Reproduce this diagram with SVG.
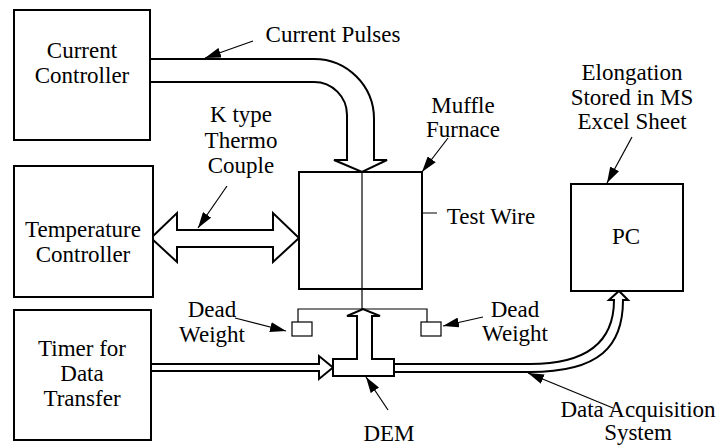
<svg xmlns="http://www.w3.org/2000/svg" width="725" height="447" viewBox="0 0 725 447">
<style>
.box{fill:#fff;stroke:#000;stroke-width:2}
.hollow{fill:#fff;stroke:#000;stroke-width:2}
.thin{fill:none;stroke:#000;stroke-width:1.2}
.wb{fill:#fff;stroke:#000;stroke-width:1.2}
.co{fill:none;stroke:#000;stroke-width:1.2;marker-end:url(#ah)}
.t{font-family:"Times New Roman","Liberation Serif",Tinos,serif;font-size:23px;fill:#000;text-anchor:middle}
</style>
<defs>
<marker id="ah" viewBox="0 0 16 10" refX="16" refY="5" markerWidth="16" markerHeight="10" orient="auto" markerUnits="userSpaceOnUse">
<path d="M0,0 L16,5 L0,10 Z" fill="#000"/>
</marker>
</defs>
<g id="connectors">
<path class="hollow" d="M150,59 L314,59 A60,60 0 0 1 374,119 L374,160 L387,160 L362,172 L334,160 L347,160 L347,115 A33,33 0 0 0 314,82 L150,82"/>
<path class="hollow" d="M151,238 L177,213 L177,230 L273,230 L273,213 L299,238 L273,262 L273,247 L177,247 L177,262 Z"/>
<path class="hollow" d="M151,364 L319,364 L319,356 L333,367.5 L319,379 L319,371 L151,371"/>
<path class="hollow" d="M394,364 L530,364 C590,364 614,340 614,300 L609,300 L619,291 L628,300 L623,300 C623,346 600,372 530,372 L394,372"/>
<path class="co" d="M253,41 L205,58"/>
<path class="co" d="M227,186 L198,228"/>
<path class="co" d="M448,138 L422,172"/>
<path class="co" d="M437,213 L368,213"/>
<path class="co" d="M632,137 L607,183"/>
<path class="co" d="M235,318 L286,331"/>
<path class="co" d="M483,317 L443,326"/>
<path class="co" d="M388,410 L366,377"/>
<path class="co" d="M613,408 L528,373"/>
</g>
<g id="current-controller">
<rect class="box" x="14" y="10" width="136" height="130"/>
<text class="t" x="82" y="58">Current</text>
<text class="t" x="82" y="83">Controller</text>
</g>
<g id="temperature-controller">
<rect class="box" x="14" y="166" width="139" height="131"/>
<text class="t" x="83" y="237">Temperature</text>
<text class="t" x="83" y="262">Controller</text>
</g>
<g id="timer">
<rect class="box" x="14" y="310" width="137" height="130"/>
<text class="t" x="82" y="356">Timer for</text>
<text class="t" x="82" y="381">Data</text>
<text class="t" x="82" y="406">Transfer</text>
</g>
<g id="muffle-furnace">
<rect class="box" x="299" y="172" width="123" height="117"/>
<line class="thin" x1="362" y1="172" x2="362" y2="309"/>
<path class="thin" d="M298,322 L298,309 L427,309 L427,322"/>
<rect class="wb" x="292" y="322" width="20" height="14"/>
<rect class="wb" x="421" y="322" width="20" height="14"/>
</g>
<g id="dem">
<path class="hollow" d="M333,359 L357,359 L357,316 L347,316 L363,309 L380,316 L372,316 L372,359 L394,359 L394,376 L333,376 Z"/>
</g>
<g id="pc">
<rect class="box" x="571" y="184" width="112" height="107"/>
<text class="t" x="626" y="244">PC</text>
</g>
<g id="labels">
<text class="t" x="333" y="42">Current Pulses</text>
<text class="t" x="241" y="122">K type</text>
<text class="t" x="241" y="148">Thermo</text>
<text class="t" x="241" y="173">Couple</text>
<text class="t" x="463" y="113">Muffle</text>
<text class="t" x="463" y="137">Furnace</text>
<text class="t" x="491" y="224">Test Wire</text>
<text class="t" x="632" y="80">Elongation</text>
<text class="t" x="632" y="105">Stored in MS</text>
<text class="t" x="632" y="129">Excel Sheet</text>
<text class="t" x="212" y="317">Dead</text>
<text class="t" x="212" y="342">Weight</text>
<text class="t" x="515" y="317">Dead</text>
<text class="t" x="515" y="341">Weight</text>
<text class="t" x="389" y="441">DEM</text>
<text class="t" x="638" y="417">Data Acquisition</text>
<text class="t" x="638" y="440">System</text>
</g>
</svg>
